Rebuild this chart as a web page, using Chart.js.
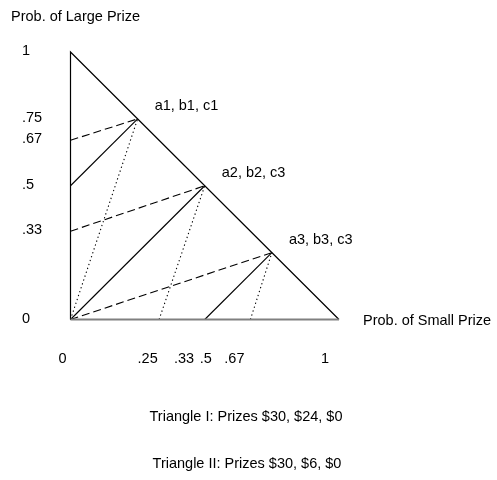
<!DOCTYPE html>
<html>
<head>
<meta charset="utf-8">
<script src="https://cdn.jsdelivr.net/npm/chart.js@4/dist/chart.umd.min.js"></script>
<style>
  html, body { margin: 0; padding: 0; background: #fff; }
  #wrap { width: 497px; height: 480px; position: relative; }
</style>
</head>
<body>
<div id="wrap"><canvas id="chart"></canvas></div>
<script>
// vertices of the three choice points on the hypotenuse
const vertexLabels = ['a1, b1, c1', 'a2, b2, c3', 'a3, b3, c3'];
const vertexX = [0.25, 0.5, 0.75];
const vertexY = [0.75, 0.5, 0.25];

// start points of the lines running to each vertex
const dashStartX = [0, 0, 0];
const dashStartY = [0.67, 0.33, 0];
const solidStartX = [0, 0, 0.5];
const solidStartY = [0.5, 0, 0];
const dotStartX = [0, 0.33, 0.67];
const dotStartY = [0, 0, 0];

// triangle outline
const triX = [0, 0, 1];
const triY = [0, 1, 0];

// tick labels
const xTickValues = [0, 0.25, 0.33, 0.5, 0.67, 1];
const xTickLabels = ['0', '.25', '.33', '.5', '.67', '1'];
const yTickValues = [1, 0.75, 0.67, 0.5, 0.33, 0];
const yTickLabels = ['1', '.75', '.67', '.5', '.33', '0'];

const yTitle = 'Prob. of Large Prize';
const xTitle = 'Prob. of Small Prize';
const captions = ['Triangle I: Prizes $30, $24, $0', 'Triangle II: Prizes $30, $6, $0'];

const FONT = '14.5px "Liberation Sans", Arial, sans-serif';

function seg(x0, y0, x1, y1) {
  return [{ x: x0, y: y0 }, { x: x1, y: y1 }];
}

const datasets = [];

// base line along the x axis (grey)
datasets.push({ data: seg(0, 0, 1, 0), borderColor: '#808080', borderWidth: 2 });

// triangle edges
datasets.push({
  data: [{ x: triX[0], y: triY[0] }, { x: triX[1], y: triY[1] }, { x: triX[2], y: triY[2] }],
  borderColor: '#000', borderWidth: 1.2
});

vertexX.forEach((vx, i) => {
  datasets.push({ data: seg(dashStartX[i], dashStartY[i], vx, vertexY[i]), borderColor: '#000', borderWidth: 1.1, borderDash: [8, 4] });
  datasets.push({ data: seg(solidStartX[i], solidStartY[i], vx, vertexY[i]), borderColor: '#000', borderWidth: 1.1 });
  datasets.push({ data: seg(dotStartX[i], dotStartY[i], vx, vertexY[i]), borderColor: '#000', borderWidth: 1.1, borderDash: [1.3, 2.8] });
});

datasets.forEach(d => {
  d.showLine = true;
  d.pointRadius = 0;
  d.pointHoverRadius = 0;
  d.tension = 0;
  d.fill = false;
  d.clip = false;
});

const textPlugin = {
  id: 'texts',
  afterDraw(chart) {
    const c = chart.ctx;
    const xs = chart.scales.x, ys = chart.scales.y;
    c.save();
    c.fillStyle = '#000';
    c.font = FONT;
    c.textBaseline = 'middle';

    // y tick labels, left aligned
    c.textAlign = 'left';
    yTickValues.forEach((v, i) => {
      c.fillText(yTickLabels[i], 22, ys.getPixelForValue(v) - 1);
    });

    // x tick labels: in the original they sit loosely under their ticks
    const nudge = [-8, 10, 25, 1, -16, -14];
    c.textAlign = 'center';
    xTickValues.forEach((v, i) => {
      c.fillText(xTickLabels[i], xs.getPixelForValue(v) + nudge[i], 359);
    });

    // axis titles
    c.textAlign = 'left';
    c.fillText(yTitle, 11, 17);
    c.fillText(xTitle, 363, ys.getPixelForValue(0) + 1);

    // vertex labels
    vertexX.forEach((vx, i) => {
      c.fillText(vertexLabels[i], xs.getPixelForValue(vx) + 17, ys.getPixelForValue(vertexY[i]) - 13);
    });

    // captions
    c.textAlign = 'center';
    c.fillText(captions[0], 246, 417);
    c.fillText(captions[1], 247, 464);
    c.restore();
  }
};

new Chart(document.getElementById('chart'), {
  type: 'scatter',
  data: { datasets: datasets },
  options: {
    responsive: true,
    maintainAspectRatio: false,
    animation: false,
    events: [],
    layout: { padding: { left: 70.5, right: 158, top: 52, bottom: 160.5 } },
    plugins: { legend: { display: false }, tooltip: { enabled: false } },
    scales: {
      x: { type: 'linear', min: 0, max: 1, display: false },
      y: { type: 'linear', min: 0, max: 1, display: false }
    }
  },
  plugins: [textPlugin]
});
</script>
</body>
</html>
